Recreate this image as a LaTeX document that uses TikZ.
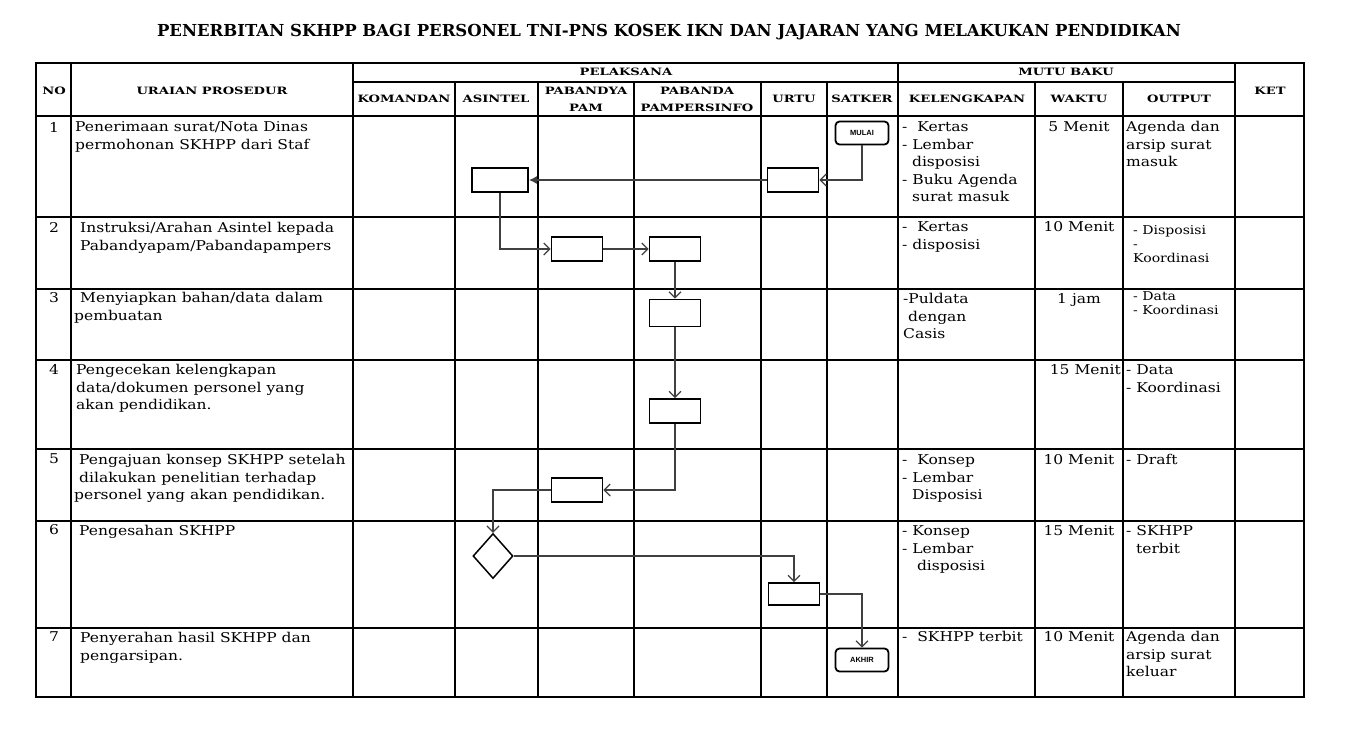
\documentclass[tikz,border=0pt]{standalone}
\usepackage{fontspec}
\setmainfont[FakeStretch=1.15]{DejaVu Serif}
\newfontfamily\kepalafamily[FakeStretch=1.3]{DejaVu Serif}
\newfontfamily\judulfamily{DejaVu Serif}
\newfontfamily\terminalfamily{Liberation Sans}
\usetikzlibrary{shapes.geometric,arrows.meta}

\newcommand{\isifont}{\fontsize{13.5}{17.5}\selectfont}
\newcommand{\kecilfont}{\fontsize{12.2}{14}\selectfont}

\tikzset{
  garis/.style={line width=1.3pt},
  tebal/.style={line width=2.4pt},
  kotak/.style={draw, line width=1.8pt, minimum width=51pt, minimum height=24pt, inner sep=0pt},
  terminal/.style={draw, rounded corners=4pt, line width=1.8pt, minimum width=53pt,
    minimum height=23pt, inner sep=0pt, font=\terminalfamily\bfseries\fontsize{7.5}{8}\selectfont},
  alir/.style={draw=black!75, line width=1.2pt, -{Straight Barb[length=6pt,width=12pt]}},
  judul/.style={font=\judulfamily\bfseries\fontsize{16.5}{18}\selectfont, inner sep=0pt},
  kepala/.style={font=\kepalafamily\bfseries\fontsize{10.1}{17}\selectfont, align=center, inner sep=0pt},
  isi/.style={anchor=north west, inner sep=0pt, align=left, font=\isifont, yshift=-1.5pt},
  kecil/.style={anchor=north west, inner sep=0pt, align=left, font=\kecilfont, yshift=-1.5pt},
  waktu/.style={anchor=north, inner sep=0pt, font=\isifont, yshift=-1.5pt}
}

\begin{document}
\begin{tikzpicture}[x=1pt, y=-1pt]
  \useasboundingbox (0,0) rectangle (1360,732);

  \node[judul] (judul) at (669,32) {PENERBITAN SKHPP BAGI PERSONEL TNI-PNS KOSEK IKN DAN JAJARAN YANG MELAKUKAN PENDIDIKAN};

  % tabel
  \draw[garis] (36,63) rectangle (1304,697);
  \draw[garis] (353,82) -- (1235,82);
  \foreach \y in {116,217,289,360,449,521,628}
    \draw[garis] (36,\y) -- (1304,\y);
  \foreach \x in {353,898,1235}
    \draw[garis] (\x,63) -- (\x,697);
  \foreach \x in {455,538,634,761,827,1035,1123}
    \draw[garis] (\x,82) -- (\x,697);
  \draw[tebal] (71,63) -- (71,697);

  % kepala tabel
  \node[kepala] (hNo) at (54,91) {NO};
  \node[kepala] (hUraian) at (212,91) {URAIAN PROSEDUR};
  \node[kepala] (hPelaksana) at (626,72) {PELAKSANA};
  \node[kepala] (hMutu) at (1066,72) {MUTU BAKU};
  \node[kepala] (hKet) at (1270,91) {KET};
  \node[kepala] (hKomandan) at (404,99) {KOMANDAN};
  \node[kepala] (hAsintel) at (496,99) {ASINTEL};
  \node[kepala] (hPam) at (586,99) {PABANDYA\\PAM};
  \node[kepala] (hPampers) at (697,99) {PABANDA\\PAMPERSINFO};
  \node[kepala] (hUrtu) at (794,99) {URTU};
  \node[kepala] (hSatker) at (862,99) {SATKER};
  \node[kepala] (hLengkap) at (967,99) {KELENGKAPAN};
  \node[kepala] (hWaktu) at (1079,99) {WAKTU};
  \node[kepala] (hOutput) at (1179,99) {OUTPUT};

  % nomor
  \foreach \n/\y in {1/127,2/227,3/298,4/369,5/459,6/530,7/637}
    \node[font=\isifont, inner sep=0pt] (no\n) at (54,\y) {\n};

  % uraian prosedur
  \node[isi] (ur1) at (75,120) {Penerimaan surat/Nota Dinas\\permohonan SKHPP dari Staf};
  \node[isi] (ur2) at (80,221) {Instruksi/Arahan Asintel kepada\\Pabandyapam/Pabandapampers};
  \node[isi] (ur3) at (74,291) {\hspace*{6pt}Menyiapkan bahan/data dalam\\pembuatan};
  \node[isi] (ur4) at (76,363) {Pengecekan kelengkapan\\data/dokumen personel yang\\akan pendidikan.};
  \node[isi] (ur5) at (74,453) {\hspace*{5pt}Pengajuan konsep SKHPP setelah\\\hspace*{5pt}dilakukan penelitian terhadap\\personel yang akan pendidikan.};
  \node[isi] (ur6) at (79,524) {Pengesahan SKHPP};
  \node[isi] (ur7) at (80,631) {Penyerahan hasil SKHPP dan\\pengarsipan.};

  % kelengkapan
  \node[isi] (kl1) at (902,120) {-\ \ Kertas\\- Lembar\\\ \ disposisi\\- Buku Agenda\\\ \ surat masuk};
  \node[isi] (kl2) at (902,220) {-\ \ Kertas\\- disposisi};
  \node[isi] (kl3) at (903,292) {-Puldata\\\ dengan\\Casis};
  \node[isi] (kl5) at (902,453) {-\ \ Konsep\\- Lembar\\\ \ Disposisi};
  \node[isi] (kl6) at (902,524) {- Konsep\\- Lembar\\\ \ \ disposisi};
  \node[isi] (kl7) at (902,630) {-\ \ SKHPP terbit};

  % waktu
  \node[waktu] (wk1) at (1079,120) {5 Menit};
  \node[waktu] (wk2) at (1079,220) {10 Menit};
  \node[waktu] (wk3) at (1079,292) {1 jam};
  \node[waktu, anchor=north east] (wk4) at (1121,363) {15 Menit};
  \node[waktu] (wk5) at (1079,453) {10 Menit};
  \node[waktu] (wk6) at (1079,524) {15 Menit};
  \node[waktu] (wk7) at (1079,630) {10 Menit};

  % output
  \node[isi] (op1) at (1126,120) {Agenda dan\\arsip surat\\masuk};
  \node[kecil] (op2) at (1133,224) {- Disposisi\\-\\Koordinasi};
  \node[kecil] (op3) at (1133,290) {- Data\\- Koordinasi};
  \node[isi] (op4) at (1126,363) {- Data\\- Koordinasi};
  \node[isi] (op5) at (1126,453) {- Draft};
  \node[isi] (op6) at (1126,524) {- SKHPP\\\ \ terbit};
  \node[isi] (op7) at (1126,630) {Agenda dan\\arsip surat\\keluar};

  % bagan alir
  \node[terminal] (mulai) at (862,133) {MULAI};
  \node[kotak] (urtuA) at (793,180) {};
  \node[kotak, minimum width=56pt] (asintelA) at (500,180) {};
  \node[kotak] (pamA) at (577,249) {};
  \node[kotak] (pampA) at (675,249) {};
  \node[kotak, minimum height=27pt] (pampB) at (675,313) {};
  \node[kotak] (pampC) at (675,411) {};
  \node[kotak] (pamB) at (577,490) {};
  \node[diamond, draw, line width=1.5pt, minimum width=40pt, minimum height=45pt, inner sep=0pt] (sah) at (493,556) {};
  \node[kotak, minimum height=22pt] (urtuB) at (794,594) {};
  \node[terminal] (akhir) at (862,660) {AKHIR};

  \draw[alir] (mulai.south) |- (urtuA.east);
  \draw[alir, -{Latex[length=8pt,width=8pt]}] (urtuA.west) -- (asintelA.east);
  \draw[alir] (asintelA.south) |- (pamA.west);
  \draw[alir] (pamA.east) -- (pampA.west);
  \draw[alir] (pampA.south) -- (pampB.north);
  \draw[alir] (pampB.south) -- (pampC.north);
  \draw[alir] (pampC.south) |- (pamB.east);
  \draw[alir] (pamB.west) -| (sah.north);
  \draw[alir] (sah.east) -| (urtuB.north);
  \draw[alir] (urtuB.east) -| (akhir.north);
\end{tikzpicture}
\end{document}
